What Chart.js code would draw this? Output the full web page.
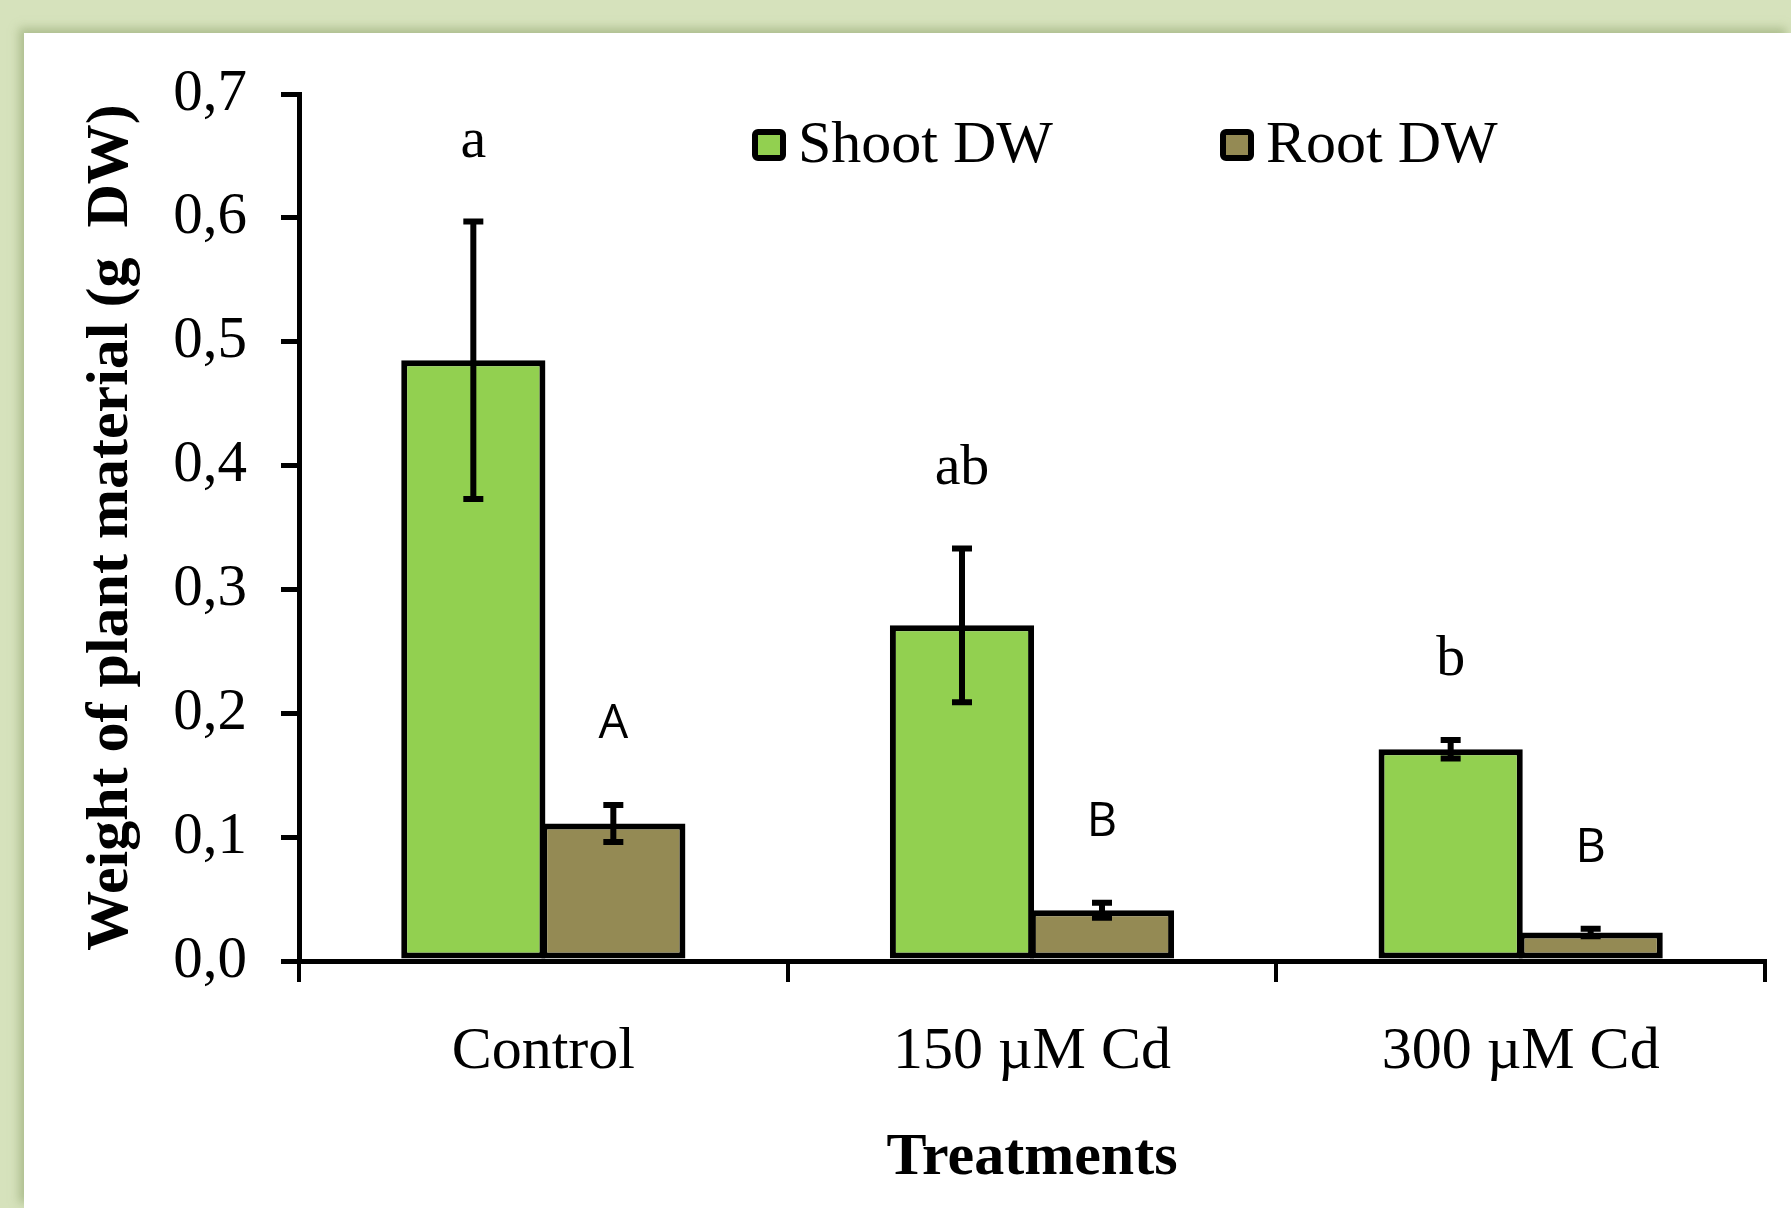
<!DOCTYPE html>
<html>
<head>
<meta charset="utf-8">
<script src="https://cdn.jsdelivr.net/npm/chart.js@4.4.1/dist/chart.umd.min.js"></script>
<style>
  html, body { margin: 0; padding: 0; width: 1791px; height: 1208px; overflow: hidden; background: #d6e2bc; }
  #panel {
    position: absolute; left: 24px; top: 33px; width: 1767px; height: 1175px;
    background: #fff; box-shadow: -5px -5px 9px rgba(140, 160, 105, 0.55);
  }
</style>
</head>
<body>
<div id="panel"><canvas id="chart"></canvas></div>
<script>
// data
const treatments = ["Control", "150 µM Cd", "300 µM Cd"];
const shootDW = [0.485, 0.271, 0.171];
const shootErr = [0.112, 0.062, 0.0075];
const rootDW = [0.111, 0.041, 0.023];
const rootErr = [0.015, 0.006, 0.003];
const shootLetters = ["a", "ab", "b"];
const rootLetters = ["A", "B", "B"];
const yTicks = [0, 0.1, 0.2, 0.3, 0.4, 0.5, 0.6, 0.7];

const serif = "'Liberation Serif', 'Times New Roman', serif";

// error bars + significance letters
const extras = {
  id: "extras",
  afterDatasetsDraw(chart) {
    const ctx = chart.ctx;
    const y = chart.scales.y;
    chart.data.datasets.forEach((ds, di) => {
      const meta = chart.getDatasetMeta(di);
      meta.data.forEach((bar, i) => {
        const v = ds.data[i], e = ds.err[i];
        const yt = y.getPixelForValue(v + e), yb = y.getPixelForValue(v - e);
        ctx.save();
        ctx.strokeStyle = "#000";
        ctx.lineWidth = 6;
        ctx.beginPath();
        ctx.moveTo(bar.x, yt); ctx.lineTo(bar.x, yb);
        ctx.moveTo(bar.x - 10, yt); ctx.lineTo(bar.x + 10, yt);
        ctx.moveTo(bar.x - 10, yb); ctx.lineTo(bar.x + 10, yb);
        ctx.stroke();
        ctx.fillStyle = "#000";
        ctx.textAlign = "center";
        ctx.textBaseline = "middle";
        ctx.font = ds.letterFont;
        ctx.fillText(ds.letters[i], bar.x, yt - 80);
        ctx.restore();
      });
    });
  }
};

// legend drawn inside the plot
const legendInside = {
  id: "legendInside",
  afterDraw(chart) {
    const ctx = chart.ctx;
    const spots = [728, 1196];
    chart.data.datasets.forEach((ds, di) => {
      const x = spots[di], yTop = 96;
      ctx.save();
      ctx.fillStyle = ds.backgroundColor;
      ctx.strokeStyle = "#000";
      ctx.lineWidth = 6;
      ctx.beginPath();
      ctx.roundRect(x + 3, yTop + 3, 28, 26, 3);
      ctx.fill();
      ctx.stroke();
      ctx.fillStyle = "#000";
      ctx.font = "60px " + serif;
      ctx.textAlign = "left";
      ctx.textBaseline = "middle";
      ctx.fillText(ds.label, x + 46, yTop + 17);
      ctx.restore();
    });
  }
};

new Chart(document.getElementById("chart"), {
  type: "bar",
  data: {
    labels: treatments,
    datasets: [
      {
        label: "Shoot DW",
        data: shootDW,
        err: shootErr,
        letters: shootLetters,
        letterFont: "58px " + serif,
        backgroundColor: "#92d050",
        borderColor: "#000",
        borderWidth: 6,
        borderSkipped: false
      },
      {
        label: "Root DW",
        data: rootDW,
        err: rootErr,
        letters: rootLetters,
        letterFont: "47px 'Open Sans', sans-serif",
        backgroundColor: "#948a54",
        borderColor: "#000",
        borderWidth: 6,
        borderSkipped: false
      }
    ]
  },
  options: {
    responsive: true,
    maintainAspectRatio: false,
    animation: false,
    layout: { padding: { left: 40, right: 26, top: 61, bottom: 0 } },
    datasets: { bar: { categoryPercentage: 0.573, barPercentage: 1.03 } },
    plugins: { legend: { display: false }, tooltip: { enabled: false } },
    scales: {
      x: {
        grid: { offset: true, drawOnChartArea: false, color: "#000", lineWidth: 4, tickLength: 21 },
        border: { color: "#000", width: 5 },
        ticks: { color: "#000", font: { family: serif, size: 60 }, padding: 34 },
        title: { display: true, text: "Treatments", color: "#000",
                 font: { family: serif, size: 60, weight: "bold" }, padding: { top: 10, bottom: 14 } },
        afterFit(scale) { scale.height = 247; }
      },
      y: {
        min: 0,
        max: 0.7,
        afterBuildTicks(scale) { scale.ticks = yTicks.map(v => ({ value: v })); },
        grid: { drawOnChartArea: false, color: "#000", lineWidth: 5, tickLength: 18 },
        border: { color: "#000", width: 5 },
        ticks: { color: "#000", font: { family: serif, size: 59 }, padding: 34,
                 callback: v => v.toFixed(1).replace(".", ",") },
        title: { display: true, text: "Weight of plant material (g  DW)", color: "#000",
                 font: { family: serif, size: 60, weight: "bold" }, padding: { top: 11, bottom: 0 } },
        afterFit(scale) {
          scale.width = 235;
          scale.paddingTop = 0;
          scale.paddingBottom = 0;
        }
      }
    }
  },
  plugins: [extras, legendInside]
});
</script>
</body>
</html>
